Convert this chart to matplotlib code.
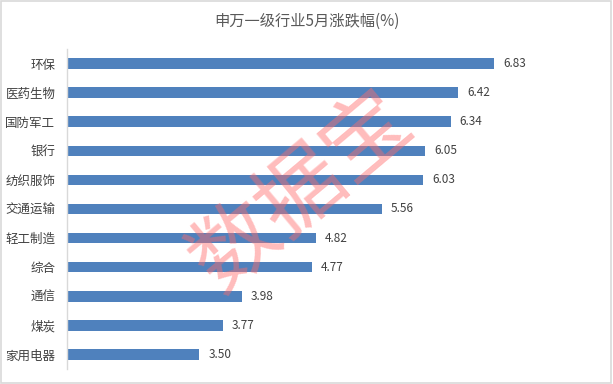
import matplotlib
matplotlib.use("Agg")
import matplotlib.pyplot as plt
from matplotlib.patches import Rectangle

plt.rcParams['font.family'] = ['Noto Sans CJK SC', 'DejaVu Sans']

title = "申万一级行业5月涨跌幅(%)"
categories = ["环保", "医药生物", "国防军工", "银行", "纺织服饰", "交通运输",
              "轻工制造", "综合", "通信", "煤炭", "家用电器"]
values = [6.83, 6.42, 6.34, 6.05, 6.03, 5.56, 4.82, 4.77, 3.98, 3.77, 3.50]
x_min, x_max = 2, 8

fig = plt.figure(figsize=(6.13, 3.84), dpi=100)
ax = fig.add_axes([66.5/613, 1-369/384, (598-66.5)/613, (369-49)/384])

y = list(range(len(categories)))
ax.barh(y, [v - x_min for v in values], left=x_min, height=0.36, color="#4F81BD")
ax.set_ylim(len(categories) - 0.5, -0.5)
ax.set_xlim(x_min, x_max)
ax.set_yticks(y)
ax.set_yticklabels(categories, fontsize=9, color="#404040")
ax.tick_params(axis='y', length=0, pad=8)
ax.set_xticks([])
for s in ["top", "right", "bottom"]:
    ax.spines[s].set_visible(False)
ax.spines["left"].set_color("#D9D9D9")
ax.spines["left"].set_linewidth(1)

for yi, v in zip(y, values):
    ax.text(v + 0.1, yi, f"{v:.2f}", va="center", ha="left", fontsize=8.5, color="#404040")

fig.text(0.5, 1 - 21/384, title, ha="center", va="center", fontsize=11, color="#595959")

fig.text(302/613, 1 - 192/384, "数据宝", ha="center", va="center", fontsize=62,
         rotation=40, color="#FF6B6B", alpha=0.45)

fig.patches.append(Rectangle((0.002, 0.003), 0.995, 0.994, transform=fig.transFigure,
                             fill=False, edgecolor="#D9D9D9", linewidth=1.2))

fig.savefig("out.png", dpi=100)
